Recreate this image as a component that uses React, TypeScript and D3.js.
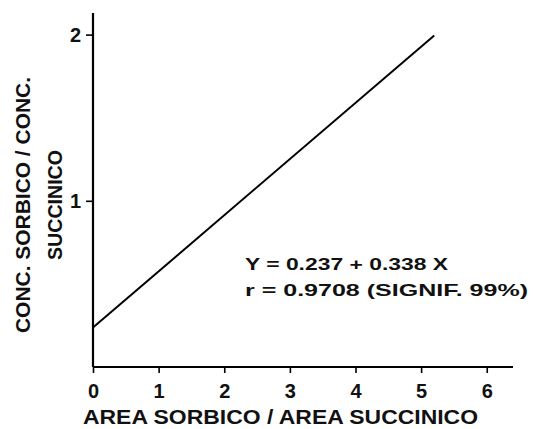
import React from "react";
import * as d3 from "d3";

// regression line endpoints
const lineX = [0, 5.2];
const lineY = [0.237, 1.995];
const xTicks = [0, 1, 2, 3, 4, 5, 6];
const yTicks = [1, 2];
const xTitle = "AREA SORBICO / AREA SUCCINICO";
const yTitle1 = "CONC. SORBICO / CONC.";
const yTitle2 = "SUCCINICO";
const notes = ["Y = 0.237 + 0.338 X", "r = 0.9708 (SIGNIF. 99%)"];

const App = () => {
  const ref = React.useRef<SVGSVGElement>(null);

  React.useEffect(() => {
    const svg = d3.select(ref.current);
    svg.selectAll("*").remove();

    const width = 533,
      height = 429;
    const x = d3.scaleLinear().domain([0, 6.4]).range([93, 513]);
    const y = d3.scaleLinear().domain([0, 2.13]).range([367, 13]);
    const font = "'Liberation Sans', Arial, sans-serif";

    svg.append("rect").attr("width", width).attr("height", height).attr("fill", "#fff");

    // axes
    const xAxis = svg.append("g")
      .attr("transform", `translate(0,${y(0)})`)
      .call(d3.axisBottom(x).tickValues(xTicks).tickSize(6).tickPadding(11).tickFormat(d3.format("d")));
    const yAxis = svg.append("g")
      .attr("transform", `translate(${x(0)},0)`)
      .call(d3.axisLeft(y).tickValues(yTicks).tickSize(7).tickPadding(5).tickFormat(d3.format("d")));

    [xAxis, yAxis].forEach((g) => {
      g.select(".domain").attr("stroke", "#000").attr("stroke-width", 2.2);
      g.selectAll(".tick line").attr("stroke", "#000").attr("stroke-width", 1.6);
      g.selectAll(".tick text")
        .attr("font-family", font)
        .attr("font-size", 20)
        .attr("font-weight", "bold")
        .attr("fill", "#111");
    });
    // no outer tick caps
    xAxis.select(".domain").attr("d", `M${x(0)},0H${x(6.4)}`);
    yAxis.select(".domain").attr("d", `M0,${y(0)}V${y(2.13)}`);

    // regression line
    const pts = lineX.map((v, i) => [v, lineY[i]] as [number, number]);
    svg.append("path")
      .datum(pts)
      .attr("fill", "none")
      .attr("stroke", "#000")
      .attr("stroke-width", 2)
      .attr("d", d3.line<[number, number]>().x((d) => x(d[0])).y((d) => y(d[1])));

    const txt = (sel: any) =>
      sel.attr("font-family", font).attr("font-weight", "bold").attr("fill", "#111")
        .attr("lengthAdjust", "spacingAndGlyphs");

    // axis titles
    svg.append("text")
      .attr("x", 83)
      .attr("y", 424)
      .attr("font-size", 20)
      .attr("textLength", 395)
      .text(xTitle)
      .call(txt);

    svg.append("text")
      .attr("transform", "translate(30,205) rotate(-90)")
      .attr("text-anchor", "middle")
      .attr("font-size", 21)
      .attr("textLength", 256)
      .text(yTitle1)
      .call(txt);
    svg.append("text")
      .attr("transform", "translate(62,205) rotate(-90)")
      .attr("text-anchor", "middle")
      .attr("font-size", 21)
      .attr("textLength", 110)
      .text(yTitle2)
      .call(txt);

    // equation
    svg.append("g")
      .selectAll("text")
      .data(notes)
      .join("text")
      .attr("x", 245)
      .attr("y", (d, i) => 270 + i * 26)
      .attr("font-size", 17)
      .attr("textLength", (d, i) => (i === 0 ? 203 : 283))
      .text((d) => d)
      .call(txt);
  }, []);

  return (
    <svg
      ref={ref}
      width={533}
      height={429}
      style={{ position: "absolute", left: 0, top: 0 }}
    ></svg>
  );
};

export default App;
